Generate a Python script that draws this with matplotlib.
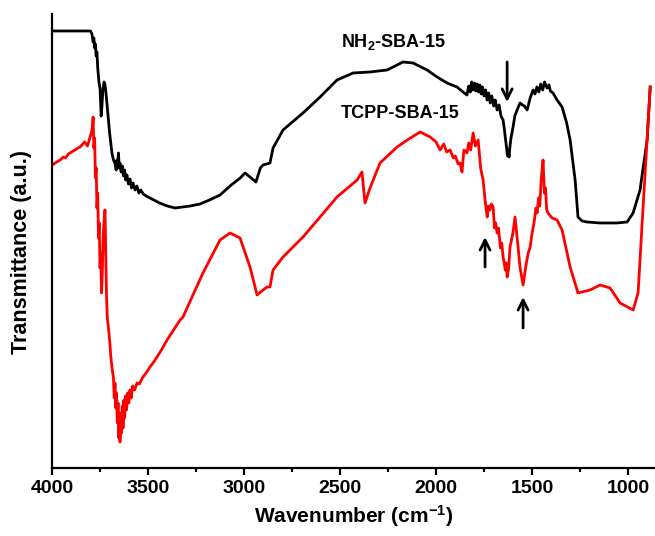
import matplotlib
matplotlib.use("Agg")
import matplotlib.pyplot as plt
from matplotlib.ticker import MultipleLocator

plt.rcParams['font.family'] = ['Liberation Sans', 'DejaVu Sans']
plt.rcParams['font.weight'] = 'bold'
plt.rcParams['mathtext.fontset'] = 'custom'
plt.rcParams['mathtext.rm'] = 'Liberation Sans:bold'
plt.rcParams['mathtext.it'] = 'Liberation Sans:bold'
plt.rcParams['mathtext.bf'] = 'Liberation Sans:bold'
plt.rcParams['mathtext.default'] = 'rm'

# NH2-SBA-15 (black), wavenumber / transmittance (a.u.)
nh2_wn = [4000, 3800, 3792, 3786, 3782, 3778, 3774, 3770, 3766, 3762,
          3758, 3755, 3750, 3746, 3744, 3740, 3735, 3729, 3724, 3719,
          3714, 3707, 3700, 3694, 3688, 3680, 3672, 3666, 3662, 3658,
          3654, 3650, 3646, 3640, 3634, 3628, 3622, 3616, 3610, 3602,
          3594, 3586, 3578, 3568, 3558, 3548, 3538, 3525, 3510, 3490,
          3440, 3400, 3359, 3320, 3280, 3229, 3180, 3125, 3073, 3020,
          2995, 2969, 2938, 2915, 2901, 2865, 2849, 2797, 2693, 2604,
          2516, 2432, 2344, 2255, 2172, 2120, 2047, 1995, 1943, 1891,
          1860, 1839, 1830, 1822, 1815, 1808, 1800, 1793, 1786, 1779,
          1772, 1765, 1758, 1750, 1742, 1734, 1726, 1718, 1710, 1700,
          1692, 1682, 1672, 1662, 1651, 1644, 1638, 1633, 1628, 1624,
          1620, 1615, 1610, 1604, 1599, 1590, 1578, 1563, 1550, 1540,
          1526, 1510, 1495, 1485, 1475, 1465, 1455, 1445, 1435, 1422,
          1412, 1405, 1391, 1370, 1344, 1320, 1302, 1276, 1261, 1240,
          1214, 1146, 1060, 1005, 974, 938, 901, 885]
nh2_t = [437, 437, 434, 426, 430, 420, 424, 412, 416, 400,
         392, 385, 380, 362, 352, 362, 378, 386, 383, 375,
         365, 350, 335, 325, 315, 308, 305, 298, 308, 300,
         315, 300, 305, 296, 302, 292, 298, 288, 293, 284,
         289, 280, 285, 278, 282, 275, 278, 274, 272, 270,
         265, 262, 260, 261, 262, 264, 268, 273, 282, 290,
         295, 291, 286, 300, 303, 305, 320, 338, 355, 371,
         388, 395, 396, 398, 406, 405, 398, 391, 385, 381,
         376, 373, 382, 376, 386, 378, 385, 377, 384, 376,
         383, 374, 381, 372, 378, 368, 375, 365, 372, 362,
         368, 358, 363, 352, 348, 338, 328, 320, 312, 318,
         311, 322, 330, 336, 341, 352, 358, 365, 363, 362,
         358, 370, 378, 374, 381, 376, 384, 378, 386, 380,
         383, 377, 375, 368, 361, 345, 328, 288, 251, 247,
         246, 245, 245, 246, 255, 278, 328, 381]

# TCPP-SBA-15 (red)
tcpp_wn = [4000, 3975, 3958, 3940, 3930, 3915, 3906, 3890, 3880, 3865,
           3854, 3840, 3830, 3815, 3802, 3795, 3790, 3786, 3782, 3778,
           3774, 3770, 3766, 3762, 3758, 3754, 3750, 3746, 3742, 3738,
           3734, 3728, 3724, 3720, 3716, 3712, 3706, 3700, 3694, 3688,
           3680, 3676, 3672, 3668, 3664, 3660, 3656, 3652, 3648, 3646,
           3642, 3638, 3634, 3630, 3626, 3622, 3617, 3612, 3606, 3600,
           3594, 3588, 3580, 3570, 3557, 3545, 3530, 3510, 3490, 3470,
           3450, 3430, 3401, 3333, 3318, 3214, 3125, 3073, 3021, 2969,
           2932, 2901, 2880, 2865, 2849, 2797, 2693, 2604, 2516, 2411,
           2386, 2370, 2344, 2292, 2203, 2150, 2083, 2031, 2000, 1979,
           1960, 1945, 1927, 1910, 1900, 1885, 1875, 1865, 1855, 1839,
           1830, 1820, 1807, 1795, 1781, 1768, 1755, 1745, 1734, 1727,
           1720, 1712, 1703, 1696, 1690, 1682, 1675, 1665, 1658, 1651,
           1645, 1640, 1635, 1630, 1622, 1615, 1600, 1589, 1575, 1563,
           1555, 1547, 1538, 1530, 1520, 1510, 1500, 1490, 1480, 1474,
           1466, 1460, 1452, 1443, 1436, 1430, 1424, 1417, 1405, 1395,
           1383, 1370, 1344, 1302, 1261, 1198, 1146, 1094, 1042, 974,
           948, 922, 885]
tcpp_t = [303, 306, 308, 311, 310, 314, 315, 317, 318, 320,
          321, 324, 326, 322, 331, 335, 340, 351, 320, 330,
          290, 300, 260, 275, 230, 245, 200, 215, 175, 195,
          230, 250, 258, 215, 170, 150, 140, 128, 112, 101,
          90, 70, 85, 60, 75, 45, 65, 30, 50, 26,
          55, 35, 62, 40, 68, 50, 72, 58, 75, 65,
          78, 70, 82, 78, 85, 84, 90, 95, 101, 106,
          112, 118, 128, 148, 151, 195, 228, 235, 230, 201,
          173, 178, 181, 181, 198, 211, 231, 251, 271, 288,
          296, 265, 280, 305, 321, 328, 336, 331, 326, 318,
          324, 316, 318, 310, 312, 304, 305, 296, 318, 315,
          325, 318, 335, 322, 328, 300, 288, 268, 251, 262,
          258, 264, 261, 240, 245, 235, 240, 220, 225, 211,
          205, 198, 205, 191, 200, 221, 235, 251, 225, 201,
          192, 183, 195, 205, 215, 221, 235, 245, 260, 255,
          270, 262, 290, 308, 275, 280, 258, 255, 252, 250,
          249, 248, 238, 201, 175, 178, 183, 180, 165, 158,
          175, 261, 381]

nh2_label = "NH$_2$-SBA-15"
tcpp_label = "TCPP-SBA-15"
arrow_wn = [1630, 1745, 1547]
arrow_tail = [406, 201, 140]
arrow_tip = [366, 231, 171]

fig = plt.figure(figsize=(6.55, 5.36), dpi=100)
ax = fig.add_axes([0.0794, 0.1269, 0.9206, 0.847])

ax.plot(nh2_wn, nh2_t, color='black', lw=2)
ax.plot(tcpp_wn, tcpp_t, color='#ff0000', lw=2)

ax.text(2495, 426, nh2_label, fontsize=13, fontweight='bold', va='center', ha='left')
ax.text(2495, 354, tcpp_label, fontsize=13, fontweight='bold', va='center', ha='left')

for wn, t0, t1 in zip(arrow_wn, arrow_tail, arrow_tip):
    ax.annotate('', xy=(wn, t1), xytext=(wn, t0),
                arrowprops=dict(arrowstyle='->', color='black', lw=2,
                                mutation_scale=18, shrinkA=0, shrinkB=0))

ax.set_xlim(4000, 860)
ax.set_ylim(0, 454)
ax.xaxis.set_major_locator(MultipleLocator(500))
ax.xaxis.set_minor_locator(MultipleLocator(250))
ax.set_yticks([])

for s in ['top', 'right']:
    ax.spines[s].set_visible(False)
for s in ['left', 'bottom']:
    ax.spines[s].set_linewidth(1.6)

ax.tick_params(axis='x', which='major', direction='out', length=5, width=1.6,
               labelsize=14, pad=4)
ax.tick_params(axis='x', which='minor', direction='out', length=3, width=1.6)
for lbl in ax.get_xticklabels():
    lbl.set_fontweight('bold')

ax.set_xlabel("Wavenumber (cm$^{-1}$)", fontsize=15, fontweight='bold', labelpad=4)
ax.set_ylabel("Transmittance (a.u.)", fontsize=15.5, fontweight='bold')
ax.yaxis.set_label_coords(-0.034, 0.476)

fig.savefig("out.png", dpi=100)
